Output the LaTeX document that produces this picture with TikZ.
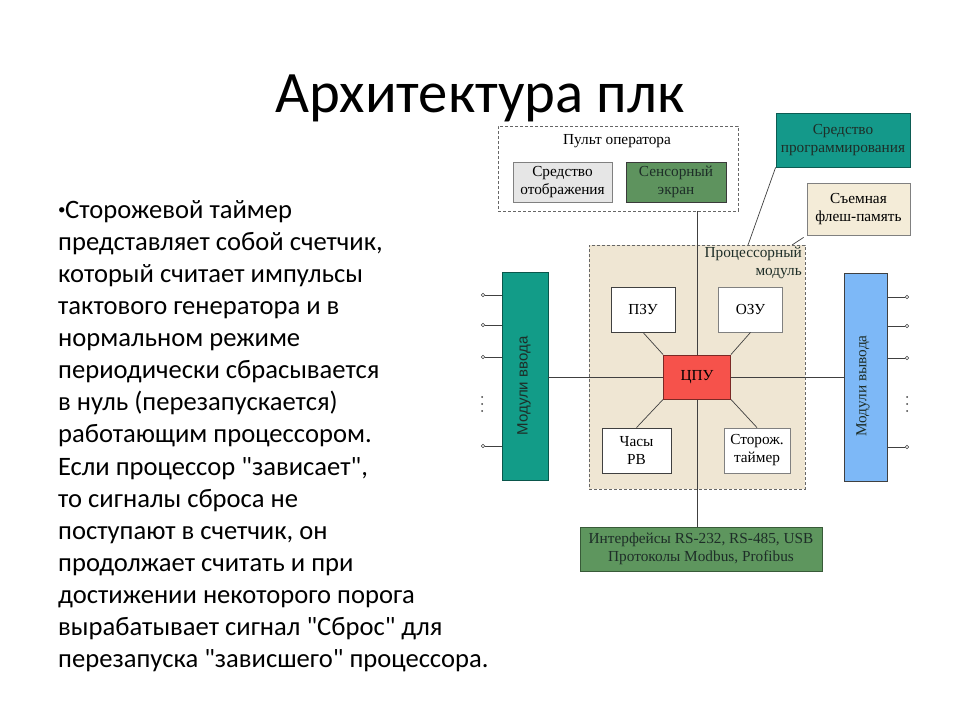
\documentclass[tikz,border=0pt]{standalone}
\usepackage{fontspec}
\setmainfont{Carlito}[Ligatures=TeXOff]
\newfontfamily\dser{Liberation Serif}
\newfontfamily\dsans{Liberation Sans}
\definecolor{lnc}{HTML}{404040}
\definecolor{procfill}{HTML}{EFE6D3}
\definecolor{dispfill}{HTML}{E6E6E6}
\definecolor{sensfill}{HTML}{5E935E}
\definecolor{progfill}{HTML}{14998A}
\definecolor{flashfill}{HTML}{F4ECD8}
\definecolor{cpufill}{HTML}{F6524B}
\definecolor{infill}{HTML}{129C88}
\definecolor{outfill}{HTML}{7DB8F7}
\definecolor{intffill}{HTML}{5E965E}
\definecolor{darktxt}{HTML}{1E2E28}
\newcommand{\smallbullet}{\raisebox{0.12em}{\fontsize{15}{15}\selectfont •}\kern-0.5pt}
\tikzset{
  x=1pt,y=-1pt,
  conn/.style={draw=lnc,line width=0.7pt},
  dbox/.style={draw=lnc!80,dashed,dash pattern=on 3pt off 2pt,line width=0.8pt},
  blk/.style={draw=lnc,line width=0.8pt,inner sep=0pt,align=center,
              font=\dser\fontsize{15.3}{18}\selectfont},
  bodyline/.style={anchor=base west,inner sep=0pt,font=\fontsize{26.6}{30}\selectfont},
}
\begin{document}
\begin{tikzpicture}
\useasboundingbox (0,0) rectangle (960,720);
\fill[white] (0,0) rectangle (960,720);

% title
\node[anchor=base,inner sep=0pt,font=\fontsize{58.7}{60}\selectfont] (title) at (480,112) {Архитектура плк};

% body text
\foreach \t [count=\i] in {
  {\smallbullet Сторожевой таймер},
  {представляет собой счетчик,},
  {который считает импульсы},
  {тактового генератора и в},
  {нормальном режиме},
  {периодически сбрасывается},
  {в нуль (перезапускается)},
  {работающим процессором.},
  {Если процессор "зависает",},
  {то сигналы сброса не},
  {поступают в счетчик, он},
  {продолжает считать и при},
  {достижении некоторого порога},
  {вырабатывает сигнал "Сброс" для},
  {перезапуска "зависшего" процессора.}}
  \node[bodyline] (line\i) at (58,{218+32.14*(\i-1)}) {\t};

% operator panel
\node[dbox,fill=white,minimum width=240pt,minimum height=85pt,inner sep=0pt] (op) at (618,168.5) {};
\node[font=\dser\fontsize{15.3}{18}\selectfont,inner sep=0pt] (oplbl) at (617,141) {Пульт оператора};
\node[blk,fill=dispfill,draw=gray,minimum width=99pt,minimum height=40pt] (disp) at (562.5,182) {Средство\\отображения};
\node[blk,fill=sensfill,draw=lnc!90!black,minimum width=100pt,minimum height=40pt,text=darktxt] (sens) at (676,182) {Сенсорный\\экран};

% programming tool and flash
\node[blk,fill=progfill,draw=progfill!60!black,minimum width=134pt,minimum height=54pt,text=darktxt] (prog) at (843,140) {Средство\\программирования};
\node[blk,fill=flashfill,draw=gray,minimum width=103pt,minimum height=52pt] (flash) at (858.5,209) {Съемная\\флеш-память};

% processor module
\node[dbox,fill=procfill,minimum width=216pt,minimum height=244pt,inner sep=0pt] (proc) at (697,367) {};
\node[anchor=north east,align=right,inner sep=0pt,font=\dser\fontsize{15.3}{18}\selectfont,text=darktxt] (proclbl) at (802,247) {Процессорный\\модуль};

% input/output modules
\node[draw=infill!55!black,fill=infill,line width=0.8pt,minimum width=46pt,minimum height=208pt,inner sep=0pt] (inm) at (525,376) {};
\node[rotate=90,font=\dsans\fontsize{15}{18}\selectfont,text=darktxt,inner sep=0pt] (inlbl) at (524,386) {Модули ввода};
\node[draw=lnc,fill=outfill,line width=0.8pt,minimum width=43pt,minimum height=208pt,inner sep=0pt] (outm) at (865.5,377) {};
\node[rotate=90,font=\dser\fontsize{15.3}{18}\selectfont,text=darktxt,inner sep=0pt] (outlbl) at (863,386) {Модули вывода};

% interfaces
\node[blk,fill=intffill,draw=intffill!60!black,minimum width=242pt,minimum height=44pt,text=darktxt] (intf) at (701,549) {Интерфейсы RS-232, RS-485, USB\\Протоколы Modbus, Profibus};

% CPU placed for connector reference
\coordinate (cpuc) at (697,377);

% connectors (behind inner blocks)
\draw[conn] (op.south -| cpuc) -- (intf.north -| cpuc);
\draw[conn] (inm.east |- cpuc) -- (outm.west |- cpuc);
\coordinate (pa) at (748,245);
\coordinate (fa) at (792,245);
\draw[conn] (prog.south west) -- (pa);
\draw[conn] ([xshift=-3pt,yshift=-2pt]flash.south west) -- (fa);

% inner blocks
\node[blk,fill=white,draw=lnc,minimum width=64pt,minimum height=45pt] (pzu) at (643,309.5) {ПЗУ};
\node[blk,fill=white,draw=gray,minimum width=64pt,minimum height=45pt] (ozu) at (750.5,309.5) {ОЗУ};
\node[blk,fill=cpufill,draw=cpufill!50!black,minimum width=67pt,minimum height=44pt] (cpu) at (cpuc) {ЦПУ};
\node[blk,fill=white,draw=lnc,minimum width=69pt,minimum height=45pt] (clk) at (636.5,450.5) {Часы\\РВ};
\node[blk,fill=white,draw=gray,minimum width=66pt,minimum height=45pt] (wd) at (757,450.5) {Сторож.\\таймер};

\draw[conn] (pzu.south) -- (cpu.north west);
\draw[conn] (ozu.south) -- (cpu.north east);
\draw[conn] (cpu.south west) -- (clk.north);
\draw[conn] (cpu.south east) -- (wd.north);

% terminals
\foreach \y [count=\k] in {295,325,357,446} {
  \coordinate (ti\k) at (483,\y);
  \draw[conn] (inm.west |- ti\k) -- ([xshift=1.8pt]ti\k);
  \draw[conn,fill=white,line width=0.5pt] (ti\k) circle (1.8pt);
}
\foreach \y [count=\k] in {297,326,358,447} {
  \coordinate (to\k) at (907,\y);
  \draw[conn] (outm.east |- to\k) -- ([xshift=-1.8pt]to\k);
  \draw[conn,fill=white,line width=0.5pt] (to\k) circle (1.8pt);
}
\foreach \y in {397,404,411} {
  \fill[lnc] (482,\y) circle (1pt);
  \fill[lnc] (907,\y) circle (1pt);
}
\end{tikzpicture}
\end{document}
